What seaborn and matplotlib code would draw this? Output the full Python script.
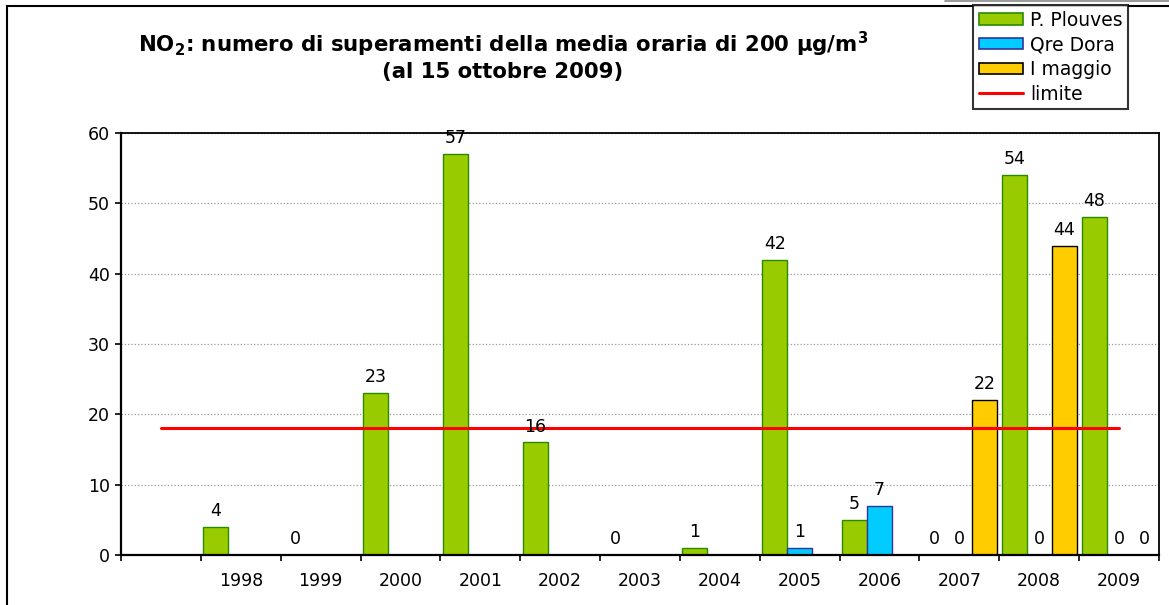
import numpy as np
import pandas as pd
import seaborn as sns
import matplotlib.pyplot as plt
from matplotlib.patches import Patch, Rectangle
from matplotlib.lines import Line2D

# categorie: la prima e' vuota (come nel grafico originale)
anni = ['', '1998', '1999', '2000', '2001', '2002', '2003', '2004',
        '2005', '2006', '2007', '2008', '2009']
plouves = [np.nan, 4, 0, 23, 57, 16, 0, 1, 42, 5, 0, 54, 48]
qre_dora = [np.nan, np.nan, np.nan, np.nan, np.nan, np.nan, np.nan, np.nan,
            1, 7, 0, 0, 0]
maggio = [np.nan, np.nan, np.nan, np.nan, np.nan, np.nan, np.nan, np.nan,
          np.nan, np.nan, 22, 44, 0]
limite = 18
stazioni = ['P. Plouves', 'Qre Dora', 'I maggio']
colori = {'P. Plouves': '#99CC00', 'Qre Dora': '#00CCFF', 'I maggio': '#FFCC00'}
bordi = {'P. Plouves': '#2A8A00', 'Qre Dora': '#333399', 'I maggio': '#000000'}

df = pd.DataFrame({'anno': anni, 'P. Plouves': plouves,
                   'Qre Dora': qre_dora, 'I maggio': maggio})
df = df.melt(id_vars='anno', var_name='stazione', value_name='n').dropna()

sns.set_style('white')
plt.rcParams['font.family'] = ['DejaVu Sans']
plt.rcParams['text.color'] = 'black'
plt.rcParams['xtick.color'] = 'black'
plt.rcParams['ytick.color'] = 'black'
fs = 12.5

fig = plt.figure(figsize=(11.69, 6.05), dpi=100)
ax = fig.add_axes([121/1169, 1-555/605, (1159-121)/1169, (555-133)/605])

sns.barplot(data=df, x='anno', y='n', hue='stazione', order=anni,
            hue_order=stazioni, palette=colori, saturation=1, width=0.94, gap=0,
            linewidth=0, ax=ax, legend=False)

for cont, st in zip(ax.containers, stazioni):
    for b in cont:
        b.set_edgecolor(bordi[st])
        b.set_linewidth(1.0)
    ax.bar_label(cont, fmt='%g', padding=5, fontsize=fs, color='black', zorder=5)

ax.plot([0, len(anni)-1], [limite, limite], color='#FF0000', lw=2.2, zorder=4)

ax.set_xlim(-0.5, len(anni)-0.5)
ax.set_ylim(0, 60)
ax.set_yticks(range(0, 61, 10))
ax.tick_params(axis='y', labelsize=fs, length=4.5, width=1.2, direction='out', left=True)
ax.set_xticks(np.arange(-0.5, len(anni), 1.0))
ax.set_xticklabels([])
ax.set_xticks(np.arange(len(anni)), minor=True)
ax.set_xticklabels(anni, minor=True)
ax.tick_params(axis='x', which='major', length=4.5, width=1.2, direction='out', bottom=True)
ax.tick_params(axis='x', which='minor', length=0, labelsize=fs, pad=12)
ax.set_xlabel('')
ax.set_ylabel('')
ax.yaxis.grid(True, color='#999999', linestyle=':', linewidth=0.9)
ax.set_axisbelow(True)
for s in ax.spines.values():
    s.set_visible(True)
    s.set_color('black')
    s.set_linewidth(1.3)
ax.spines['left'].set_linewidth(1.6)
ax.spines['bottom'].set_linewidth(1.6)

fig.text(503/1169, 1-44/605,
         r'NO$_\mathbf{2}$: numero di superamenti della media oraria di 200 µg/m$^\mathbf{3}$',
         ha='center', va='center', fontsize=15.3, fontweight='bold')
fig.text(503/1169, 1-72/605, '(al 15 ottobre 2009)',
         ha='center', va='center', fontsize=15.3, fontweight='bold')

handles = [Patch(facecolor=colori[s], edgecolor=bordi[s], linewidth=1.2) for s in stazioni]
handles.append(Line2D([0], [0], color='#FF0000', lw=2.2))
leg = fig.legend(handles, stazioni + ['limite'], loc='upper left',
                 bbox_to_anchor=(973/1169, 1-5/605), bbox_transform=fig.transFigure,
                 borderaxespad=0, fontsize=13.5, frameon=True, fancybox=False,
                 edgecolor='black', handlelength=2.35, handleheight=0.55,
                 handletextpad=0.4, labelspacing=0.3, borderpad=0.3)
leg.get_frame().set_linewidth(1.5)
leg.set_zorder(10)

# cornice esterna del grafico
fig.add_artist(Rectangle((7/1169, -0.05), 1.2, 1-6/605+0.05, transform=fig.transFigure,
                         fill=False, edgecolor='black', linewidth=1.5, zorder=0))
fig.add_artist(Line2D([945/1169, 1], [1-1/605, 1-1/605], transform=fig.transFigure,
                      color='#888888', lw=1.2))

fig.savefig('out.png', dpi=100)
